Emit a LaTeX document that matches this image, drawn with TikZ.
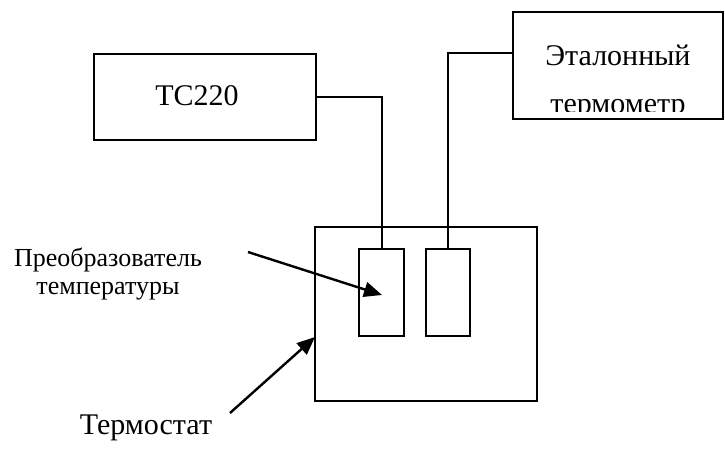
\documentclass[tikz,border=0pt]{standalone}
\usepackage{fontspec}
\setmainfont{Liberation Serif}
\usetikzlibrary{arrows.meta,calc}
\begin{document}
\begin{tikzpicture}[x=1pt,y=-1pt,
  box/.style={draw,line width=2.8pt,rectangle,inner sep=0pt},
  wire/.style={line width=2pt},
  pointer/.style={line width=2.4pt,-{Triangle[length=18pt,width=15pt]}},
  big/.style={font=\fontsize{30}{34}\selectfont},
  mid/.style={font=\fontsize{26}{28}\selectfont}]
\useasboundingbox (0,0) rectangle (725,448);
% boxes
\node[box,minimum width=222pt,minimum height=86pt] (tc) at (205,97) {};
\node[big] (tctext) at (197,96) {TC220};
\node[box,minimum width=210pt,minimum height=107pt] (et) at (618,65.5) {};
\begin{scope}
  \clip (515,14) rectangle (721,111);
  \node[big,anchor=base] (et1) at (618,65) {Эталонный};
  \node[big,anchor=base] (et2) at (618,113) {термометр};
\end{scope}
\node[box,minimum width=222pt,minimum height=174pt] (th) at (426,314) {};
\node[box,minimum width=45pt,minimum height=87pt] (p1) at (381.5,292.5) {};
\node[box,minimum width=44pt,minimum height=87pt] (p2) at (448,292.5) {};
% wires
\draw[wire] (tc.east) -| (p1.north);
\draw[wire] ([yshift=12.5pt]et.west) -| (p2.north);
% labels
\node[mid,align=center] (lbl) at (108,274) {Преобразователь\\температуры};
\node[big] (tl) at (146,428) {Термостат};
\coordinate (a1s) at (248,252);
\coordinate (a1e) at (382,295);
\coordinate (a2s) at (230,413);
\coordinate (a2e) at (315,337);
\draw[pointer] (a1s) -- (a1e);
\draw[pointer] (a2s) -- (a2e);
\end{tikzpicture}
\end{document}
